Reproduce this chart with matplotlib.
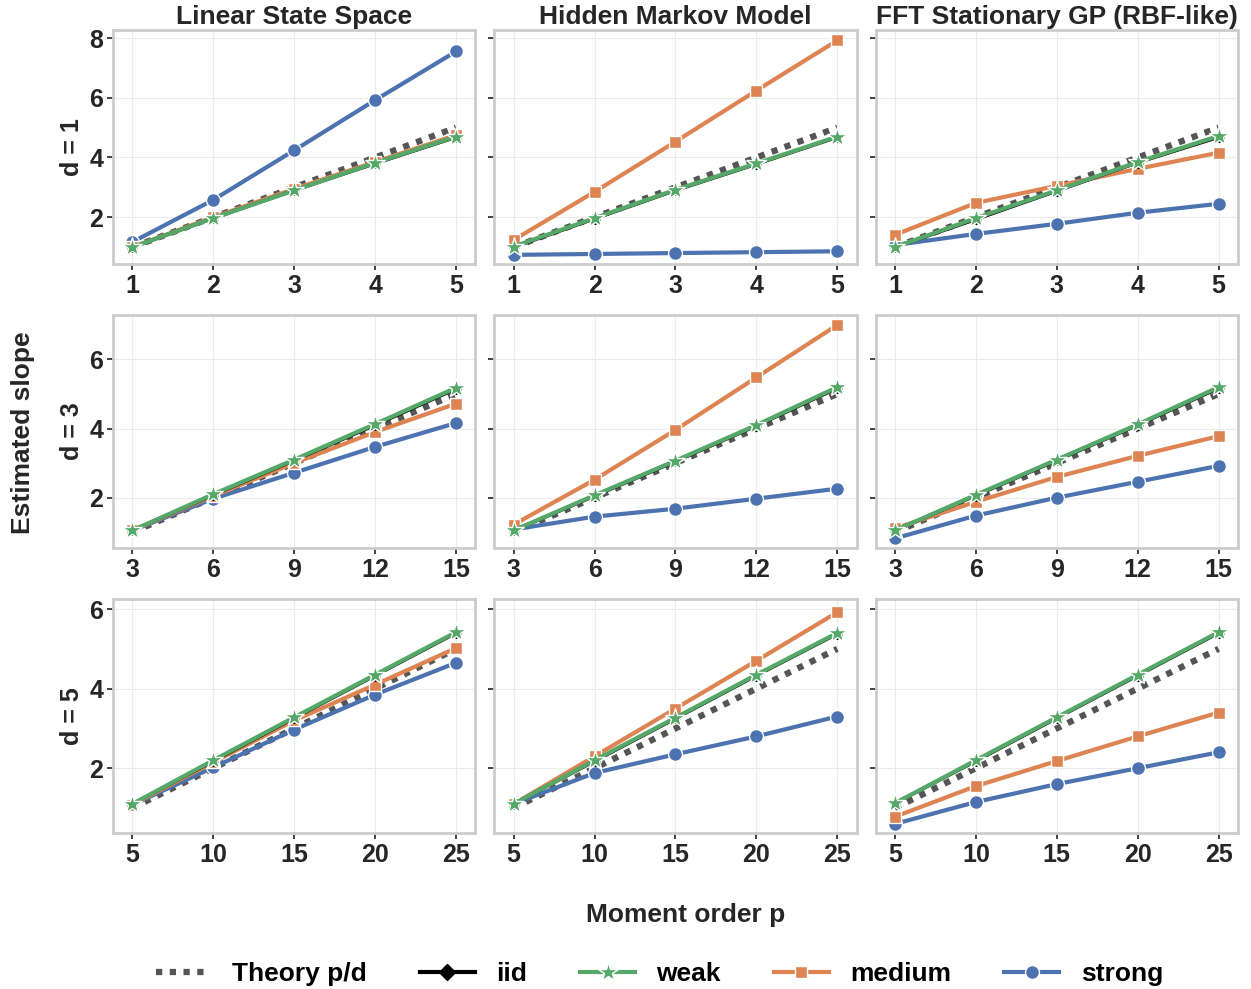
import numpy as np
import matplotlib
matplotlib.use("Agg")
import matplotlib.pyplot as plt
from matplotlib.lines import Line2D

plt.rcParams['font.family'] = ['Liberation Sans', 'DejaVu Sans']
plt.rcParams['font.weight'] = 'bold'

# datos
modelos = ["Linear State Space", "Hidden Markov Model", "FFT Stationary GP (RBF-like)"]
dims = [1, 3, 5]
p_d1 = [1, 2, 3, 4, 5]
p_d3 = [3, 6, 9, 12, 15]
p_d5 = [5, 10, 15, 20, 25]

# d = 1
lss_d1_iid = [1.0, 1.97, 2.9, 3.8, 4.68]
lss_d1_weak = [1.0, 1.97, 2.9, 3.82, 4.7]
lss_d1_medium = [1.0, 2.0, 2.95, 3.85, 4.75]
lss_d1_strong = [1.17, 2.58, 4.24, 5.92, 7.55]
hmm_d1_iid = [1.0, 1.95, 2.9, 3.78, 4.68]
hmm_d1_weak = [1.02, 1.97, 2.92, 3.8, 4.7]
hmm_d1_medium = [1.24, 2.85, 4.53, 6.24, 7.92]
hmm_d1_strong = [0.74, 0.77, 0.8, 0.83, 0.86]
fft_d1_iid = [1.0, 1.93, 2.88, 3.83, 4.68]
fft_d1_weak = [1.0, 1.97, 2.9, 3.85, 4.72]
fft_d1_medium = [1.41, 2.48, 3.05, 3.62, 4.16]
fft_d1_strong = [1.07, 1.44, 1.78, 2.15, 2.45]

# d = 3
lss_d3_iid = [1.05, 2.08, 3.08, 4.1, 5.15]
lss_d3_weak = [1.05, 2.1, 3.1, 4.13, 5.18]
lss_d3_medium = [1.05, 2.05, 3.0, 3.9, 4.72]
lss_d3_strong = [1.05, 1.97, 2.72, 3.47, 4.16]
hmm_d3_iid = [1.05, 2.05, 3.05, 4.08, 5.17]
hmm_d3_weak = [1.05, 2.07, 3.07, 4.1, 5.2]
hmm_d3_medium = [1.22, 2.52, 3.96, 5.48, 7.0]
hmm_d3_strong = [1.08, 1.45, 1.68, 1.97, 2.26]
fft_d3_iid = [1.05, 2.06, 3.08, 4.1, 5.17]
fft_d3_weak = [1.05, 2.08, 3.1, 4.12, 5.2]
fft_d3_medium = [1.11, 1.88, 2.6, 3.21, 3.78]
fft_d3_strong = [0.82, 1.48, 2.0, 2.46, 2.92]

# d = 5
lss_d5_iid = [1.1, 2.18, 3.26, 4.33, 5.4]
lss_d5_weak = [1.1, 2.2, 3.28, 4.35, 5.42]
lss_d5_medium = [1.08, 2.15, 3.2, 4.1, 5.02]
lss_d5_strong = [1.08, 2.02, 2.97, 3.85, 4.65]
hmm_d5_iid = [1.1, 2.18, 3.25, 4.33, 5.38]
hmm_d5_weak = [1.1, 2.2, 3.27, 4.35, 5.4]
hmm_d5_medium = [1.1, 2.3, 3.5, 4.7, 5.92]
hmm_d5_strong = [1.1, 1.88, 2.35, 2.8, 3.3]
fft_d5_iid = [1.12, 2.18, 3.26, 4.33, 5.4]
fft_d5_weak = [1.12, 2.2, 3.28, 4.35, 5.42]
fft_d5_medium = [0.78, 1.55, 2.18, 2.8, 3.4]
fft_d5_strong = [0.6, 1.15, 1.6, 2.0, 2.4]

ps = [p_d1, p_d3, p_d5]
series = [
    [[lss_d1_iid, lss_d1_weak, lss_d1_medium, lss_d1_strong],
     [hmm_d1_iid, hmm_d1_weak, hmm_d1_medium, hmm_d1_strong],
     [fft_d1_iid, fft_d1_weak, fft_d1_medium, fft_d1_strong]],
    [[lss_d3_iid, lss_d3_weak, lss_d3_medium, lss_d3_strong],
     [hmm_d3_iid, hmm_d3_weak, hmm_d3_medium, hmm_d3_strong],
     [fft_d3_iid, fft_d3_weak, fft_d3_medium, fft_d3_strong]],
    [[lss_d5_iid, lss_d5_weak, lss_d5_medium, lss_d5_strong],
     [hmm_d5_iid, hmm_d5_weak, hmm_d5_medium, hmm_d5_strong],
     [fft_d5_iid, fft_d5_weak, fft_d5_medium, fft_d5_strong]],
]
ylims = [(0.44, 8.27), (0.53, 7.3), (0.37, 6.25)]

# estilos: iid, weak, medium, strong
nombres = ["iid", "weak", "medium", "strong"]
colores = ["black", "#55a868", "#dd8452", "#4c72b0"]
marcadores = ["D", "*", "s", "o"]
tam = [5, 15, 9, 10]
orden = [3, 2, 0, 1]  # strong, medium, iid, weak (weak encima)

fig, axes = plt.subplots(3, 3, figsize=(12.51, 9.89), dpi=100, sharey='row')
fig.subplots_adjust(left=0.0903, right=0.9896, top=0.9697, bottom=0.1577,
                    wspace=0.052, hspace=0.217)

for i in range(3):
    for j in range(3):
        ax = axes[i, j]
        p = np.array(ps[i])
        ax.grid(True, color="#ebebeb", lw=0.8)
        ax.set_axisbelow(True)
        ax.plot(p, p / dims[i], ls=(0, (1, 1.2)), color="#555555", lw=4.5, zorder=2)
        for k in orden:
            mec = "black" if k == 0 else "white"
            ax.plot(p, series[i][j][k], color=colores[k], lw=3 if k else 2.5,
                    marker=marcadores[k], ms=tam[k], mec=mec, mew=1,
                    zorder=3 + (k == 1) * 2)
        ax.set_xticks(p)
        ax.set_ylim(*ylims[i])
        ax.tick_params(labelsize=18, length=4, width=1.2, color="#222222", pad=3)
        for lab in ax.get_xticklabels() + ax.get_yticklabels():
            lab.set_fontweight('bold')
            lab.set_color("#262626")
        for s in ax.spines.values():
            s.set_color("#cccccc")
            s.set_linewidth(2)
        if i == 0:
            ax.set_title(modelos[j], fontsize=19, fontweight='bold', color="#262626", pad=4)
        if j == 0:
            ax.set_ylabel(f"d = {dims[i]}", fontsize=18, fontweight='bold', color="#262626")
        ax.set_xlim(p[0] - 0.06 * (p[-1] - p[0]), p[-1] + 0.06 * (p[-1] - p[0]))

for i in range(3):
    axes[i, 0].set_yticks([2, 4, 6, 8] if i == 0 else [2, 4, 6])
    axes[i, 0].set_ylim(*ylims[i])

fig.text(0.548, 0.075, "Moment order p", ha="center", va="center", fontsize=19,
         fontweight="bold", color="#262626")
fig.text(0.018, 0.563, "Estimated slope", ha="center", va="center", rotation=90,
         fontsize=19, fontweight="bold", color="#262626")

handles = [Line2D([], [], ls=(0, (1, 1.2)), color="#555555", lw=4.5)]
for k in range(4):
    handles.append(Line2D([], [], color=colores[k], lw=3, marker=marcadores[k],
                          ms=tam[k] + (3 if k == 0 else 0),
                          mec="white" if k else "black", mew=1))
labels = ["Theory p/d"] + nombres
fig.legend(handles, labels, loc="center", bbox_to_anchor=(0.527, 0.015), ncol=5,
           frameon=False, fontsize=19, handlelength=2.1, columnspacing=2.0,
           handletextpad=0.8)

fig.savefig("out.png", dpi=100)
